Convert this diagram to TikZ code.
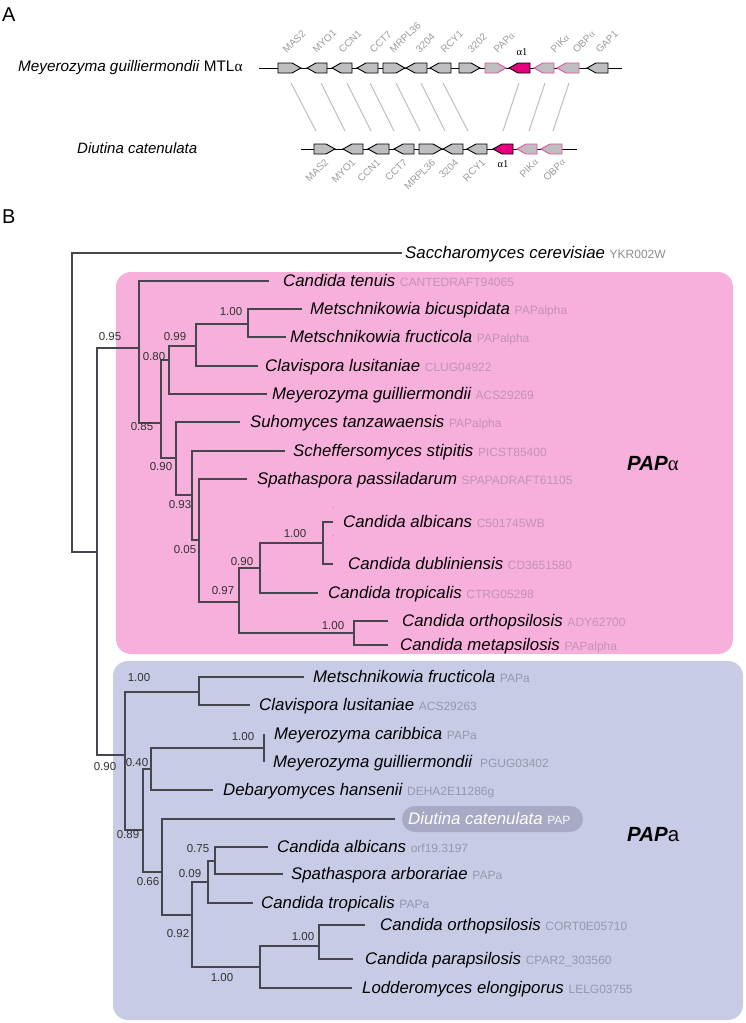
\documentclass[tikz,border=0pt]{standalone}
\usepackage{fontspec}
\setmainfont{Liberation Sans}
\newfontfamily\grk{Liberation Serif}
\definecolor{pinkbox}{RGB}{247,175,219}
\definecolor{bluebox}{RGB}{200,203,230}
\definecolor{pillc}{RGB}{168,170,197}
\definecolor{idgrey}{RGB}{140,140,140}
\definecolor{idpink}{RGB}{196,146,180}
\definecolor{idblue}{RGB}{150,152,172}
\definecolor{brc}{RGB}{70,70,78}
\definecolor{genegrey}{RGB}{190,190,193}
\definecolor{pinkline}{RGB}{222,80,160}
\definecolor{magc}{RGB}{230,0,126}
\definecolor{glabc}{RGB}{155,155,155}
\definecolor{linkc}{RGB}{190,190,190}
\newcommand{\idf}{\fontsize{12}{14}\selectfont\upshape}
\newcommand{\curid}{idpink}
\newcommand{\leaf}[6]{\coordinate (#1) at (#2,#3);
  \node[spn, anchor=base west] (#1t) at (#4,#3+5.5) {#5 {\idf\textcolor{\curid}{#6}}};}
\newcommand{\kids}[3]{\draw[br] (#2) -| (#1) |- (#3);}
\newcommand{\geneR}[4]{\draw[#4] (#1,#3-5) -- (#2-9,#3-5) -- (#2,#3) -- (#2-9,#3+5) -- (#1,#3+5) -- cycle;}
\newcommand{\geneL}[4]{\draw[#4] (#2,#3-5) -- (#1+9,#3-5) -- (#1,#3) -- (#1+9,#3+5) -- (#2,#3+5) -- cycle;}
\begin{document}
\begin{tikzpicture}[x=1pt,y=-1pt,
  spn/.style={inner sep=0pt, font=\fontsize{16.8}{19}\selectfont\itshape},
  br/.style={draw=brc, line width=1.1pt},
  bsup/.style={inner sep=0pt, font=\fontsize{11.5}{13}\selectfont, text=black!80},
  gene/.style={fill=genegrey, draw=black, line width=0.9pt},
  genep/.style={fill=genegrey, draw=pinkline, line width=0.9pt},
  genem/.style={fill=magc, draw=black, line width=0.9pt},
  backbone/.style={draw=black, line width=1pt},
  link/.style={draw=linkc, line width=1pt},
  glabT/.style={inner sep=0pt, font=\fontsize{10}{11}\selectfont, text=glabc, rotate=45, anchor=south west},
  glabB/.style={inner sep=0pt, font=\fontsize{10}{11}\selectfont, text=glabc, rotate=45, anchor=north east},
  alab/.style={inner sep=0pt, font=\grk\fontsize{10.5}{11}\selectfont},
  panel/.style={inner sep=0pt, font=\fontsize{20}{22}\selectfont, anchor=base west},
  clade/.style={inner sep=0pt, font=\fontsize{20.5}{22}\selectfont, anchor=base west}
]
\useasboundingbox (0,0) rectangle (746,1023);
% ---------------- Panel A ----------------
\node[panel] (lA) at (2,21) {A};
\node[inner sep=0pt, anchor=west, font=\fontsize{15.3}{17}\selectfont] (tM) at (18,68) {\textit{Meyerozyma guilliermondii} MTL{\grk α}};
\node[inner sep=0pt, anchor=west, font=\fontsize{15}{17}\selectfont\itshape] (tD) at (77,148) {Diutina catenulata};
\draw[backbone] (259,68) -- (622,68);
\draw[backbone] (301,149) -- (577,149);
% top row genes
\geneR{278}{301}{68}{gene}
\geneL{307}{327}{68}{gene}
\geneL{332}{352}{68}{gene}
\geneL{357}{378}{68}{gene}
\geneR{383}{405}{68}{gene}
\geneL{406}{427}{68}{gene}
\geneL{430}{451}{68}{gene}
\geneR{459}{480}{68}{gene}
\geneR{485}{506}{68}{genep}
\geneL{509}{530}{68}{genem}
\geneL{534}{554}{68}{genep}
\geneL{557}{579}{68}{genep}
\geneL{587}{608}{68}{gene}
% bottom row genes
\geneR{314}{335}{149}{gene}
\geneL{343}{363}{149}{gene}
\geneL{368}{389}{149}{gene}
\geneL{394}{414}{149}{gene}
\geneR{419}{442}{149}{gene}
\geneL{443}{463}{149}{gene}
\geneL{467}{487}{149}{gene}
\geneL{493}{513}{149}{genem}
\geneL{517}{537}{149}{genep}
\geneL{541}{562}{149}{genep}
% links
\draw[link] (291,83) -- (316,131);
\draw[link] (321,83) -- (345,131);
\draw[link] (347,83) -- (371,131);
\draw[link] (370,83) -- (394,131);
\draw[link] (396,83) -- (420,131);
\draw[link] (421,83) -- (445,131);
\draw[link] (443,83) -- (468,131);
\draw[link] (519,83) -- (503,131);
\draw[link] (545,83) -- (529,131);
\draw[link] (569,83) -- (553,131);
% top labels
\node[glabT] (u1) at (287,54) {MAS2};
\node[glabT] (u2) at (317,54) {MYO1};
\node[glabT] (u3) at (343,54) {CCN1};
\node[glabT] (u4) at (374,54) {CCT7};
\node[glabT] (u5) at (394,54) {MRPL36};
\node[glabT] (u6) at (420,54) {3204};
\node[glabT] (u7) at (445,54) {RCY1};
\node[glabT] (u8) at (472,54) {3202};
\node[glabT] (u9) at (498,54) {PAP{\grk α}};
\node[alab] (u10) at (522,52) {α1};
\node[glabT] (u11) at (555,54) {PIK{\grk α}};
\node[glabT] (u12) at (577,54) {OBP{\grk α}};
\node[glabT] (u13) at (600,54) {GAP1};
% bottom labels
\node[glabB] (d1) at (324,158) {MAS2};
\node[glabB] (d2) at (351,158) {MYO1};
\node[glabB] (d3) at (376,158) {CCN1};
\node[glabB] (d4) at (403,158) {CCT7};
\node[glabB] (d5) at (431,158) {MRPL36};
\node[glabB] (d6) at (454,158) {3204};
\node[glabB] (d7) at (481,158) {RCY1};
\node[alab] (d8) at (503,164) {α1};
\node[glabB] (d9) at (534,158) {PIK{\grk α}};
\node[glabB] (d10) at (561,158) {OBP{\grk α}};
% ---------------- Panel B ----------------
\node[panel] (lB) at (2,223) {B};
\fill[pinkbox, rounded corners=15pt] (116,272) rectangle (733,654);
\fill[bluebox, rounded corners=15pt] (113,661) rectangle (743,1020);
\fill[pillc, rounded corners=13pt] (402,806) rectangle (583,832);
% leaves
\renewcommand{\curid}{idgrey}
\leaf{scer}{402}{253}{405}{Saccharomyces cerevisiae}{YKR002W}
\renewcommand{\curid}{idpink}
\leaf{ten}{269}{281}{283}{Candida tenuis}{CANTEDRAFT94065}
\leaf{bic}{302}{309}{310}{Metschnikowia bicuspidata}{PAPalpha}
\leaf{fru}{286}{337}{290}{Metschnikowia fructicola}{PAPalpha}
\leaf{cla}{258}{366}{265}{Clavispora lusitaniae}{CLUG04922}
\leaf{mgu}{267}{394}{272}{Meyerozyma guilliermondii}{ACS29269}
\leaf{suh}{240}{422}{250}{Suhomyces tanzawaensis}{PAPalpha}
\leaf{sch}{285}{451}{293}{Scheffersomyces stipitis}{PICST85400}
\leaf{spa}{247}{479}{257}{Spathaspora passiladarum}{SPAPADRAFT61105}
\leaf{alb}{333}{522}{343}{Candida albicans}{C501745WB}
\leaf{dub}{333}{564}{348}{Candida dubliniensis}{CD3651580}
\leaf{tro}{318}{593}{328}{Candida tropicalis}{CTRG05298}
\leaf{ort}{388}{621}{402}{Candida orthopsilosis}{ADY62700}
\leaf{met}{388}{645}{400}{Candida metapsilosis}{PAPalpha}
\renewcommand{\curid}{idblue}
\leaf{frua}{304}{677}{313}{Metschnikowia fructicola}{PAPa}
\leaf{claa}{250}{705}{259}{Clavispora lusitaniae}{ACS29263}
\leaf{car}{264}{734}{274}{Meyerozyma caribbica}{PAPa}
\leaf{mgua}{264}{762}{273}{Meyerozyma guilliermondii}{\ PGUG03402}
\leaf{deb}{213}{790}{223}{Debaryomyces hansenii}{DEHA2E11286g}
\coordinate (dc) at (395,819);
\node[spn, anchor=base west, text=white] (dct) at (408,824.5) {Diutina catenulata {\idf\textcolor{white!92!pillc}{PAP}}};
\leaf{alba}{268}{847}{277}{Candida albicans}{orf19.3197}
\leaf{spaa}{283}{874}{291}{Spathaspora arborariae}{PAPa}
\leaf{troa}{253}{903}{261}{Candida tropicalis}{PAPa}
\leaf{orta}{365}{925}{380}{Candida orthopsilosis}{CORT0E05710}
\leaf{par}{353}{959}{365}{Candida parapsilosis}{CPAR2\_303560}
\leaf{lod}{352}{988}{362}{Lodderomyces elongiporus}{LELG03755}
% internal nodes
\coordinate (R) at (72,400);
\coordinate (I) at (97,552);
\coordinate (A0) at (139,348);
\coordinate (A1) at (161,423);
\coordinate (A2) at (169,360);
\coordinate (A3) at (196,346);
\coordinate (A4) at (248,324);
\coordinate (A5) at (176,458);
\coordinate (A6) at (192,495);
\coordinate (A7) at (199,540);
\coordinate (A8) at (239,602);
\coordinate (A9) at (260,568);
\coordinate (A10) at (354,633);
\coordinate (A11) at (323,543);
\coordinate (B0) at (125,755);
\coordinate (B1) at (199,692);
\coordinate (B2) at (143,830);
\coordinate (B3) at (151,769);
\coordinate (B4) at (264,748);
\coordinate (B5) at (162,872);
\coordinate (B6) at (192,915);
\coordinate (B7) at (208,882);
\coordinate (B8) at (260,967);
\coordinate (B9) at (215,861);
\coordinate (B10) at (319,946);
\kids{R}{scer}{I}
\kids{I}{A0}{B0}
\kids{A0}{ten}{A1}
\kids{A1}{A2}{A5}
\kids{A2}{A3}{mgu}
\kids{A3}{A4}{cla}
\kids{A4}{bic}{fru}
\kids{A5}{suh}{A6}
\kids{A6}{sch}{A7}
\kids{A7}{spa}{A8}
\kids{A8}{A9}{A10}
\kids{A9}{A11}{tro}
\kids{A11}{alb}{dub}
\kids{A10}{ort}{met}
\kids{B0}{B1}{B2}
\kids{B1}{frua}{claa}
\kids{B2}{B3}{B5}
\kids{B3}{B4}{deb}
\kids{B4}{car}{mgua}
\kids{B5}{dc}{B6}
\kids{B6}{B7}{B8}
\kids{B7}{B9}{troa}
\kids{B9}{alba}{spaa}
\kids{B8}{B10}{lod}
\kids{B10}{orta}{par}
% tiny dots
\fill[black!60] (333,507) circle (0.5);
\fill[black!60] (333,535) circle (0.5);
% support values
\node[bsup] (s1) at (110,337) {0.95};
\node[bsup] (s2) at (231,312) {1.00};
\node[bsup] (s3) at (175,337) {0.99};
\node[bsup] (s4) at (154,357) {0.80};
\node[bsup] (s5) at (142,427) {0.85};
\node[bsup] (s6) at (161,467) {0.90};
\node[bsup] (s7) at (180,505) {0.93};
\node[bsup] (s8) at (185,550) {0.05};
\node[bsup] (s9) at (223,591) {0.97};
\node[bsup] (s10) at (242,562) {0.90};
\node[bsup] (s11) at (295,534) {1.00};
\node[bsup] (s12) at (333,626) {1.00};
\node[bsup] (s13) at (139,678) {1.00};
\node[bsup] (s14) at (105,767) {0.90};
\node[bsup] (s15) at (137,763) {0.40};
\node[bsup] (s16) at (243,737) {1.00};
\node[bsup] (s17) at (128,835) {0.89};
\node[bsup] (s18) at (148,882) {0.66};
\node[bsup] (s19) at (198,849) {0.75};
\node[bsup] (s20) at (190,874) {0.09};
\node[bsup] (s21) at (178,934) {0.92};
\node[bsup] (s22) at (222,978) {1.00};
\node[bsup] (s23) at (303,937) {1.00};
% clade labels
\node[clade] (cA) at (627,470) {\textbf{\textit{PAP}}{\grk α}};
\node[clade] (cB) at (627,841) {\textbf{\textit{PAP}}a};
\end{tikzpicture}
\end{document}
